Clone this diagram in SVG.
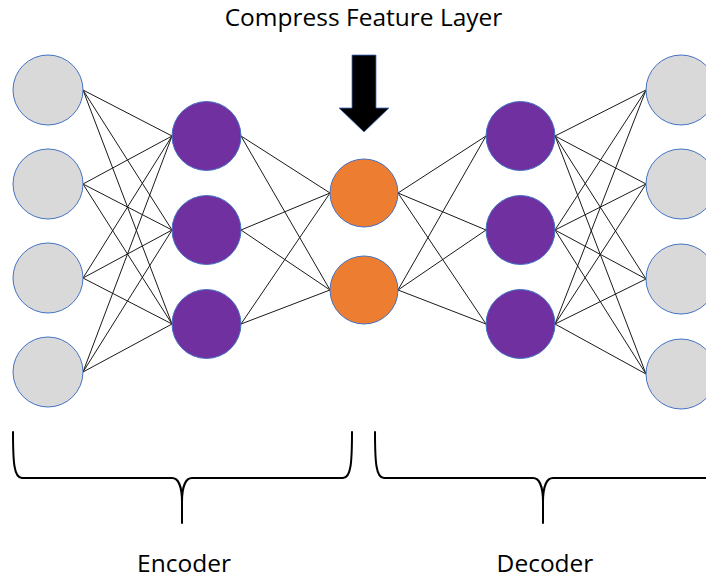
<svg xmlns="http://www.w3.org/2000/svg" width="706" height="579" viewBox="0 0 706 579">
  <style>
    .edge { stroke: #1a1a1a; stroke-width: 1; fill: none; }
    .input { fill: #D9D9D9; stroke: #4472C4; stroke-width: 1; }
    .hidden { fill: #7030A0; stroke: #4472C4; stroke-width: 1; }
    .code { fill: #ED7D31; stroke: #4472C4; stroke-width: 1; }
    .brace { stroke: #000; stroke-width: 2; fill: none; stroke-linecap: round; }
    .label { font-family: "Open Sans", "Liberation Sans", sans-serif; fill: #000; }
  </style>

  <rect width="706" height="579" fill="#fff"/>

  <!-- Title -->
  <text class="label" x="363.5" y="26" font-size="24.5" text-anchor="middle">Compress Feature Layer</text>

  <!-- Down arrow pointing at the bottleneck layer -->
  <g id="arrow">
    <path d="M352,55 L376,55 L376,108 L389,108 L364,132 L339,108 L352,108 Z" fill="#000" stroke="#4472C4" stroke-width="0.8"/>
  </g>

  <!-- Connections between layers -->
  <g id="connectors">
    <!-- input -> encoder hidden -->
    <line class="edge" x1="83" y1="90" x2="172" y2="136"/>
    <line class="edge" x1="83" y1="90" x2="172" y2="230"/>
    <line class="edge" x1="83" y1="90" x2="172" y2="324"/>
    <line class="edge" x1="83" y1="184" x2="172" y2="136"/>
    <line class="edge" x1="83" y1="184" x2="172" y2="230"/>
    <line class="edge" x1="83" y1="184" x2="172" y2="324"/>
    <line class="edge" x1="83" y1="278" x2="172" y2="136"/>
    <line class="edge" x1="83" y1="278" x2="172" y2="230"/>
    <line class="edge" x1="83" y1="278" x2="172" y2="324"/>
    <line class="edge" x1="83" y1="372" x2="172" y2="136"/>
    <line class="edge" x1="83" y1="372" x2="172" y2="230"/>
    <line class="edge" x1="83" y1="372" x2="172" y2="324"/>
    <!-- encoder hidden -> code -->
    <line class="edge" x1="241" y1="136" x2="330" y2="193"/>
    <line class="edge" x1="241" y1="136" x2="330" y2="290"/>
    <line class="edge" x1="241" y1="230" x2="330" y2="193"/>
    <line class="edge" x1="241" y1="230" x2="330" y2="290"/>
    <line class="edge" x1="241" y1="324" x2="330" y2="193"/>
    <line class="edge" x1="241" y1="324" x2="330" y2="290"/>
    <!-- code -> decoder hidden -->
    <line class="edge" x1="398" y1="193" x2="486" y2="136"/>
    <line class="edge" x1="398" y1="193" x2="486" y2="230"/>
    <line class="edge" x1="398" y1="193" x2="486" y2="324"/>
    <line class="edge" x1="398" y1="290" x2="486" y2="136"/>
    <line class="edge" x1="398" y1="290" x2="486" y2="230"/>
    <line class="edge" x1="398" y1="290" x2="486" y2="324"/>
    <!-- decoder hidden -> output -->
    <line class="edge" x1="555" y1="136" x2="646" y2="90"/>
    <line class="edge" x1="555" y1="136" x2="646" y2="184"/>
    <line class="edge" x1="555" y1="136" x2="646" y2="279"/>
    <line class="edge" x1="555" y1="136" x2="646" y2="374"/>
    <line class="edge" x1="555" y1="230" x2="646" y2="90"/>
    <line class="edge" x1="555" y1="230" x2="646" y2="184"/>
    <line class="edge" x1="555" y1="230" x2="646" y2="279"/>
    <line class="edge" x1="555" y1="230" x2="646" y2="374"/>
    <line class="edge" x1="555" y1="324" x2="646" y2="90"/>
    <line class="edge" x1="555" y1="324" x2="646" y2="184"/>
    <line class="edge" x1="555" y1="324" x2="646" y2="279"/>
    <line class="edge" x1="555" y1="324" x2="646" y2="374"/>
  </g>

  <!-- Input layer -->
  <g id="in1"><circle class="input" cx="48" cy="90" r="35"/></g>
  <g id="in2"><circle class="input" cx="48" cy="184" r="35"/></g>
  <g id="in3"><circle class="input" cx="48" cy="278" r="35"/></g>
  <g id="in4"><circle class="input" cx="48" cy="372" r="35"/></g>

  <!-- Encoder hidden layer -->
  <g id="enc1"><circle class="hidden" cx="206.5" cy="136" r="34.5"/></g>
  <g id="enc2"><circle class="hidden" cx="206.5" cy="230" r="34.5"/></g>
  <g id="enc3"><circle class="hidden" cx="206.5" cy="324" r="34.5"/></g>

  <!-- Bottleneck layer -->
  <g id="code1"><circle class="code" cx="364" cy="193" r="34"/></g>
  <g id="code2"><circle class="code" cx="364" cy="290" r="34"/></g>

  <!-- Decoder hidden layer -->
  <g id="dec1"><circle class="hidden" cx="520.5" cy="136" r="34.5"/></g>
  <g id="dec2"><circle class="hidden" cx="520.5" cy="230" r="34.5"/></g>
  <g id="dec3"><circle class="hidden" cx="520.5" cy="324" r="34.5"/></g>

  <!-- Output layer -->
  <g id="out1"><circle class="input" cx="681" cy="90" r="35"/></g>
  <g id="out2"><circle class="input" cx="681" cy="184" r="35"/></g>
  <g id="out3"><circle class="input" cx="681" cy="279" r="35"/></g>
  <g id="out4"><circle class="input" cx="681" cy="374" r="35"/></g>

  <!-- Encoder brace -->
  <g id="encoder-brace">
    <path class="brace" d="M13,432 C13,462 14,478 22,478 L172,478 C178,478 182,486 182,502 L182,523"/>
    <path class="brace" d="M182,502 C182,486 186,478 192,478 L343,478 C351,478 352,462 352,432"/>
    <text class="label" x="184" y="572" font-size="24.5" text-anchor="middle">Encoder</text>
  </g>

  <!-- Decoder brace -->
  <g id="decoder-brace">
    <path class="brace" d="M375,432 C375,462 376,478 384,478 L533,478 C539,478 543,486 543,502 L543,523"/>
    <path class="brace" d="M543,502 C543,486 547,478 553,478 L710,478"/>
    <text class="label" x="545" y="572" font-size="24.5" text-anchor="middle">Decoder</text>
  </g>
</svg>
